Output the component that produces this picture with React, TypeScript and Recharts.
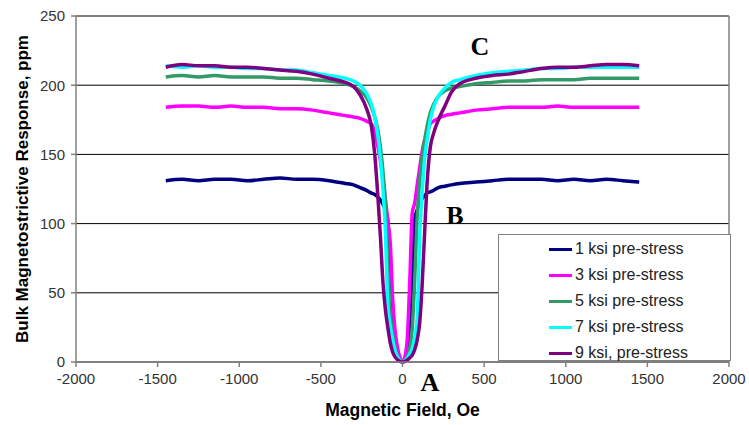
import {
  CartesianGrid,
  Legend,
  Line,
  LineChart,
  ReferenceLine,
  XAxis,
  YAxis,
} from "recharts";

// magnetic field, Oe
const FIELD = [
  -1450, -1350, -1250, -1150, -1050, -950, -850, -750, -650, -550,
  -450, -350, -300, -260, -220, -190, -170, -150, -135, -120,
  -105, -90, -75, -60, -45, -30, -15,
  0,
  15, 30, 45, 60, 75, 90, 105, 120, 135, 150,
  170, 190, 220, 260, 300, 350, 450, 550, 650, 750,
  850, 950, 1050, 1150, 1250, 1350, 1450,
];

// response, ppm
const KSI_1 = [
  131, 132, 131, 132, 132, 131, 132, 133, 132, 132,
  131, 129, 128, 126, 124, 122, 121, 119, 117, 114,
  110, 102, 70, 38, 18, 7, 2,
  0,
  2, 8, 22, 55, 103, 110, 114, 118, 120, 122,
  123, 124, 126, 127, 128, 129, 130, 131, 132, 132,
  132, 131, 132, 131, 132, 131, 130,
];
const KSI_3 = [
  184, 185, 185, 184, 185, 184, 184, 183, 183, 182,
  180, 178, 177, 176, 174, 172, 166, 155, 145, 132,
  118, 102, 86, 45, 22, 10, 3,
  0,
  4, 18, 60, 108, 115, 128, 140, 152, 160, 165,
  172, 174, 176, 178, 179, 180, 182, 183, 184, 184,
  184, 185, 184, 184, 184, 184, 184,
];
const KSI_5 = [
  206, 207, 206, 207, 206, 206, 206, 205, 205, 204,
  203, 201, 199, 196, 191, 184, 177, 167, 155, 138,
  115, 70, 35, 20, 10, 4, 1,
  0,
  1, 4, 10, 25, 60, 105, 130, 148, 160, 170,
  180, 186, 192, 196, 198, 199, 201, 202, 203, 203,
  204, 204, 204, 205, 205, 205, 205,
];
const KSI_7 = [
  214, 213, 214, 213, 213, 212, 212, 211, 211, 209,
  207, 205, 203, 200, 194, 186, 177, 163, 147, 125,
  95, 42, 26, 16, 8, 3.5, 1,
  0,
  1, 3, 6, 10, 18, 32, 90, 122, 146, 160,
  175, 184, 192, 198, 202, 204, 207, 209, 210, 211,
  212, 212, 213, 213, 213, 213, 213,
];
const KSI_9 = [
  213, 215, 214, 214, 213, 213, 212, 211, 210, 208,
  205, 202, 199, 193, 183, 170, 150, 118, 90, 58,
  38, 25, 14, 7, 3.5, 1.5, 0.4,
  0,
  0.4, 1.5, 3, 5, 9, 16, 28, 55, 92, 128,
  155, 165, 175, 185, 195, 201, 205, 207, 208, 210,
  212, 213, 213, 214, 215, 215, 214,
];

const X_TICKS = [-2000, -1500, -1000, -500, 0, 500, 1000, 1500, 2000];
const Y_TICKS = [0, 50, 100, 150, 200, 250];

const SERIES = [
  { key: "s1", name: "1 ksi pre-stress", color: "#000080", values: KSI_1 },
  { key: "s3", name: "3 ksi pre-stress", color: "#ff00ff", values: KSI_3 },
  { key: "s5", name: "5 ksi pre-stress", color: "#339966", values: KSI_5 },
  { key: "s7", name: "7 ksi pre-stress", color: "#00ffff", values: KSI_7 },
  { key: "s9", name: "9 ksi, pre-stress", color: "#800080", values: KSI_9 },
];

const rows = FIELD.map((h, i) => {
  const row: Record<string, number> = { h };
  SERIES.forEach((s) => (row[s.key] = s.values[i]));
  return row;
});

const FONT = '"Liberation Sans", Arial, sans-serif';
const TICK = { fill: "#333", fontSize: 15, fontFamily: FONT };
const AXIS_GRAY = "#808080";

function LegendBox() {
  return (
    <div
      style={{
        boxSizing: "border-box",
        width: 233,
        height: 127,
        border: `1px solid ${AXIS_GRAY}`,
        background: "#fff",
        paddingTop: 1,
        fontFamily: FONT,
        fontSize: 16,
        color: "#222",
      }}
    >
      {SERIES.map((s) => (
        <div
          key={s.key}
          style={{ display: "flex", alignItems: "center", height: 26, paddingLeft: 50 }}
        >
          <span
            style={{
              display: "inline-block",
              flexShrink: 0,
              width: 23,
              height: 3,
              background: s.color,
              marginRight: 3,
            }}
          />
          <span style={{ whiteSpace: "nowrap" }}>{s.name}</span>
        </div>
      ))}
    </div>
  );
}

const mark = (left: number, top: number) => ({
  position: "absolute" as const,
  left,
  top,
  fontFamily: '"Liberation Serif", "Times New Roman", serif',
  fontWeight: 700,
  fontSize: 26,
  lineHeight: "26px",
  color: "#000",
  transform: "translate(-50%, -50%)",
});

export default function App() {
  return (
    <div style={{ position: "relative", width: 749, height: 425, background: "#fff" }}>
      <style>{"body{margin:0}"}</style>
      <LineChart
        width={749}
        height={425}
        data={rows}
        margin={{ top: 16, right: 20, bottom: 0, left: 8 }}
        style={{ fontFamily: FONT }}
      >
        <CartesianGrid vertical={false} stroke="#000" />
        <XAxis
          dataKey="h"
          type="number"
          domain={[-2000, 2000]}
          ticks={X_TICKS}
          interval={0}
          height={63}
          tick={TICK}
          tickSize={5}
          tickMargin={6}
          stroke={AXIS_GRAY}
          strokeWidth={1.5}
          label={{
            value: "Magnetic Field, Oe",
            position: "insideBottom",
            offset: 9,
            style: { fill: "#000", fontSize: 17.5, fontWeight: 700, fontFamily: FONT },
          }}
        />
        <YAxis
          type="number"
          domain={[0, 250]}
          ticks={Y_TICKS}
          interval={0}
          width={68}
          tick={TICK}
          tickSize={5}
          tickMargin={6}
          stroke={AXIS_GRAY}
          strokeWidth={1.5}
          label={{
            value: "Bulk Magnetostrictive Response, ppm",
            angle: -90,
            position: "insideLeft",
            offset: 14,
            style: {
              textAnchor: "middle",
              fill: "#000",
              fontSize: 17,
              fontWeight: 700,
              fontFamily: FONT,
            },
          }}
        />
        <ReferenceLine y={250} stroke={AXIS_GRAY} strokeWidth={1.5} />
        <ReferenceLine x={2000} stroke={AXIS_GRAY} strokeWidth={1.5} />
        {SERIES.map((s) => (
          <Line
            key={s.key}
            dataKey={s.key}
            name={s.name}
            stroke={s.color}
            strokeWidth={3.5}
            dot={false}
            type="monotone"
            isAnimationActive={false}
          />
        ))}
        <Legend
          layout="vertical"
          align="center"
          verticalAlign="middle"
          content={() => <LegendBox />}
          wrapperStyle={{ left: 498, top: 234, width: 233, height: 127 }}
        />
      </LineChart>
      <div style={mark(430, 383)}>A</div>
      <div style={mark(455, 216)}>B</div>
      <div style={mark(480, 47)}>C</div>
    </div>
  );
}
